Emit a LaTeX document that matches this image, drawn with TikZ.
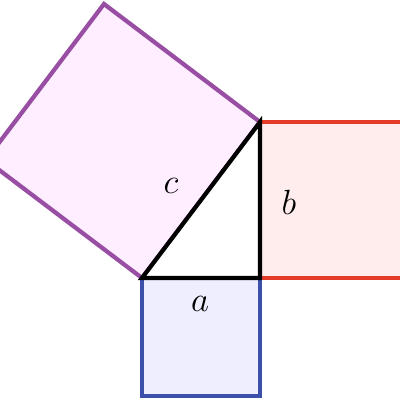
\documentclass[tikz,border=0pt]{standalone}
\usepackage{tikz}
\usetikzlibrary{calc,positioning}

\definecolor{sqc}{RGB}{152,78,163}
\definecolor{sqb}{RGB}{228,60,40}
\definecolor{sqa}{RGB}{60,80,170}
\definecolor{fillc}{RGB}{255,238,255}
\definecolor{fillb}{RGB}{255,236,236}
\definecolor{filla}{RGB}{238,238,255}
\tikzset{
  side/.style={line width=3pt,line join=miter},
  lbl/.style={font=\fontsize{34}{38}\selectfont}
}

\begin{document}
\begin{tikzpicture}[x=0.025cm,y=-0.025cm]
\useasboundingbox (0,0) rectangle (400,400);

\coordinate (A) at (142,278);
\coordinate (B) at (260,278);
\coordinate (C) at (260,122);

\begin{scope}
\clip (0,0) rectangle (400,400);
\draw[side,draw=sqc,fill=fillc] (A) -- (C) -- ($(C)+(-156,-118)$) -- ($(A)+(-156,-118)$) -- cycle;
\draw[side,draw=sqb,fill=fillb] (B) -- (C) -- ($(C)+(156,0)$) -- ($(B)+(156,0)$) -- cycle;
\draw[side,draw=sqa,fill=filla] (A) -- (B) -- ($(B)+(0,118)$) -- ($(A)+(0,118)$) -- cycle;
\end{scope}

\draw[side,fill=white] (A) -- (B) -- (C) -- cycle;

\node[lbl] (lc) at (171,186) {$c$};
\node[lbl] (lb) at (289,202) {$b$};
\node[lbl] (la) at (200,304) {$a$};

\end{tikzpicture}
\end{document}
